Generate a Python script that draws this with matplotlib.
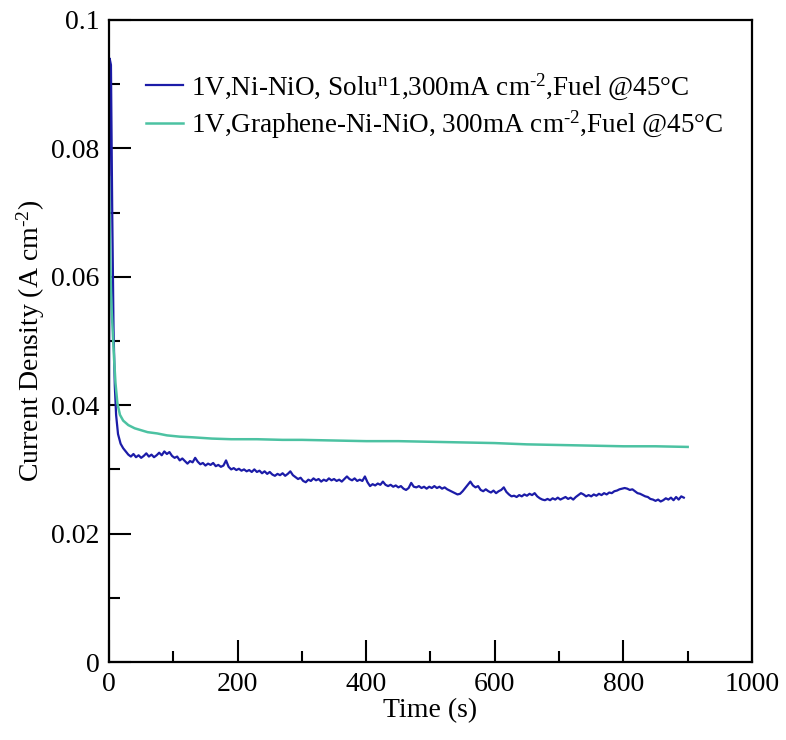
import matplotlib
matplotlib.use("Agg")
import matplotlib.pyplot as plt
from matplotlib.ticker import MultipleLocator

# Ni-NiO run (blue), time in s, current density in A cm-2
blue_t = [0, 1, 3, 5, 7, 9, 11, 14, 18, 22,
          26, 30, 34, 38, 42, 46, 50, 54, 58, 62, 66, 70, 74, 78, 82, 86, 90, 94, 98,
          102, 106, 110, 114, 118, 122, 126, 130, 134, 138, 142, 146, 150, 154, 158,
          162, 166, 170, 174, 178, 182, 186, 190, 194, 198,
          202, 206, 210, 214, 218, 222, 226, 230, 234, 238, 242, 246, 250, 254, 258,
          262, 266, 270, 274, 278, 282, 286, 290, 294, 298,
          302, 306, 310, 314, 318, 322, 326, 330, 334, 338, 342, 346, 350, 354, 358,
          362, 366, 370, 374, 378, 382, 386, 390, 394, 398,
          402, 406, 410, 414, 418, 422, 426, 430, 434, 438, 442, 446, 450, 454, 458,
          462, 466, 470, 474, 478, 482, 486, 490, 494, 498,
          502, 506, 510, 514, 518, 522, 526, 530, 534, 538, 542, 546, 550, 554, 558,
          562, 566, 570, 574, 578, 582, 586, 590, 594, 598,
          602, 606, 610, 614, 618, 622, 626, 630, 634, 638, 642, 646, 650, 654, 658,
          662, 666, 670, 674, 678, 682, 686, 690, 694, 698,
          702, 706, 710, 714, 718, 722, 726, 730, 734, 738, 742, 746, 750, 754, 758,
          762, 766, 770, 774, 778, 782, 786, 790, 794, 798,
          802, 806, 810, 814, 818, 822, 826, 830, 834, 838, 842, 846, 850, 854, 858,
          862, 866, 870, 874, 878, 882, 886, 890, 894]
blue_j = [0.0378, 0.0940, 0.0930, 0.0700, 0.0520, 0.0430, 0.0385, 0.0355, 0.0340, 0.0333,
          0.0328, 0.0323, 0.0320, 0.0324, 0.0319, 0.0322, 0.0318, 0.0321, 0.0325, 0.0320,
          0.0323, 0.0319, 0.0322, 0.0326, 0.0322, 0.0328, 0.0324, 0.0327, 0.0321,
          0.0318, 0.0320, 0.0314, 0.0317, 0.0313, 0.0309, 0.0313, 0.0311, 0.0318, 0.0312,
          0.0308, 0.0310, 0.0306, 0.0309, 0.0307, 0.0310, 0.0305, 0.0307, 0.0304, 0.0306,
          0.0314, 0.0304, 0.0300, 0.0302, 0.0299,
          0.0301, 0.0298, 0.0300, 0.0297, 0.0299, 0.0296, 0.0300, 0.0296, 0.0298, 0.0294,
          0.0297, 0.0293, 0.0296, 0.0292, 0.0290, 0.0293, 0.0291, 0.0294, 0.0290, 0.0293,
          0.0297, 0.0291, 0.0288, 0.0285, 0.0287,
          0.0282, 0.0280, 0.0284, 0.0282, 0.0286, 0.0283, 0.0285, 0.0281, 0.0284, 0.0282,
          0.0286, 0.0283, 0.0285, 0.0282, 0.0284, 0.0281, 0.0285, 0.0289, 0.0285, 0.0283,
          0.0286, 0.0282, 0.0284, 0.0282, 0.0289,
          0.0280, 0.0274, 0.0277, 0.0275, 0.0278, 0.0276, 0.0281, 0.0276, 0.0274, 0.0276,
          0.0273, 0.0275, 0.0272, 0.0274, 0.0270, 0.0268, 0.0271, 0.0279, 0.0273, 0.0272,
          0.0274, 0.0271, 0.0273, 0.0270, 0.0273,
          0.0271, 0.0274, 0.0271, 0.0273, 0.0270, 0.0272, 0.0269, 0.0267, 0.0265, 0.0263,
          0.0261, 0.0262, 0.0266, 0.0271, 0.0276, 0.0281, 0.0275, 0.0272, 0.0274, 0.0268,
          0.0266, 0.0269, 0.0266, 0.0264, 0.0267,
          0.0263, 0.0266, 0.0268, 0.0272, 0.0265, 0.0261, 0.0258, 0.0259, 0.0257, 0.0260,
          0.0258, 0.0261, 0.0259, 0.0262, 0.0260, 0.0263, 0.0258, 0.0255, 0.0253, 0.0252,
          0.0254, 0.0252, 0.0255, 0.0253, 0.0256,
          0.0253, 0.0255, 0.0257, 0.0254, 0.0256, 0.0253, 0.0257, 0.0260, 0.0263, 0.0261,
          0.0258, 0.0260, 0.0258, 0.0261, 0.0259, 0.0262, 0.0260, 0.0263, 0.0261, 0.0264,
          0.0263, 0.0266, 0.0267, 0.0269, 0.0270,
          0.0271, 0.0270, 0.0268, 0.0269, 0.0266, 0.0263, 0.0262, 0.0260, 0.0258, 0.0257,
          0.0254, 0.0253, 0.0251, 0.0253, 0.0250, 0.0252, 0.0255, 0.0253, 0.0256, 0.0252,
          0.0257, 0.0253, 0.0258, 0.0256]

# Graphene-Ni-NiO run (teal)
teal_t = [0, 1, 2, 3, 4, 5, 6, 8, 10, 13, 17, 22, 30, 40, 50, 60, 75, 90, 110, 130,
          160, 190, 230, 270, 300, 350, 400, 450, 500, 550, 600, 650, 700, 750, 800,
          850, 900]
teal_j = [0.0755, 0.0680, 0.0620, 0.0580, 0.0550, 0.0530, 0.0510, 0.0470, 0.0435,
          0.0403, 0.0385, 0.0376, 0.0369, 0.0364, 0.0361, 0.0358, 0.0356, 0.0353,
          0.0351, 0.0350, 0.0348, 0.0347, 0.0347, 0.0346, 0.0346, 0.0345, 0.0344,
          0.0344, 0.0343, 0.0342, 0.0341, 0.0339, 0.0338, 0.0337, 0.0336, 0.0336, 0.0335]

labels = ["1V,Ni-NiO, Solu$^{\\mathrm{n}}$1,300mA cm$^{\\text{-2}}$,Fuel @45°C",
          "1V,Graphene-Ni-NiO, 300mA cm$^{\\text{-2}}$,Fuel @45°C"]

plt.rcParams['font.family'] = ['Liberation Serif', 'DejaVu Serif']
plt.rcParams['mathtext.fontset'] = 'custom'
plt.rcParams['mathtext.rm'] = 'Liberation Serif'
plt.rcParams['mathtext.it'] = 'Liberation Serif:italic'

fig = plt.figure(figsize=(7.86, 7.40), dpi=100)
ax = fig.add_axes([0.1387, 0.1054, 0.818, 0.8676])

ax.plot(blue_t, blue_j, color='#1c1ca8', lw=1.6, label=labels[0])
ax.plot(teal_t, teal_j, color='#4cc2a2', lw=1.8, label=labels[1])

ax.set_xlim(0, 1000)
ax.set_ylim(0, 0.1)
ax.xaxis.set_major_locator(MultipleLocator(200))
ax.xaxis.set_minor_locator(MultipleLocator(100))
ax.yaxis.set_minor_locator(MultipleLocator(0.01))
ax.set_yticks([0, 0.02, 0.04, 0.06, 0.08, 0.1])
ax.set_yticklabels(['0', '0.02', '0.04', '0.06', '0.08', '0.1'])

ax.tick_params(which='both', direction='in', labelsize=20, width=1.5)
ax.tick_params(which='major', length=16, pad=7)
ax.tick_params(which='minor', length=8)
for s in ax.spines.values():
    s.set_linewidth(1.6)

ax.set_xlabel('Time (s)', fontsize=20, labelpad=1)
ax.set_ylabel('Current Density (A cm$^{\\text{-2}}$)', fontsize=20, labelpad=3)

ax.legend(loc='upper left', bbox_to_anchor=(0.058, 0.92), frameon=False,
          fontsize=19.5, handlelength=1.35, handletextpad=0.3, labelspacing=0.25,
          borderpad=0, borderaxespad=0)

fig.savefig('out.png', dpi=100)
